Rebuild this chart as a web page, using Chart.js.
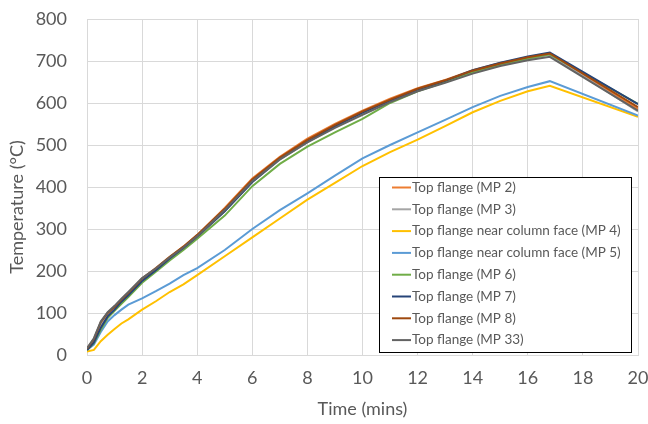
<!DOCTYPE html>
<html lang="en">

<head>
    <meta charset="UTF-8">
    <title>Top flange temperatures</title>
    <script src="https://cdn.jsdelivr.net/npm/chart.js"></script>
    <style>
        html, body { margin: 0; padding: 0; background: #fff; }
        #wrap { width: 648px; height: 424px; position: relative; }
    </style>
</head>

<body>
    <div id="wrap"><canvas id="tempChart"></canvas></div>

    <script>
        // time in minutes
        const times = [0, 0.25, 0.5, 0.75, 1, 1.25, 1.5, 2, 2.5, 3, 3.5, 4, 5, 6, 7, 8, 9, 10, 11, 12, 13, 14, 15, 16, 16.8, 20];

        const mp2 = [15, 35, 75, 98, 112, 130, 145, 180, 205, 232, 258, 285, 350, 420, 472, 515, 550, 582, 610, 635, 655, 678, 695, 708, 717, 585];
        const mp3 = [14, 32, 70, 95, 108, 127, 142, 177, 202, 228, 255, 280, 343, 412, 465, 507, 543, 575, 603, 630, 652, 675, 692, 705, 715, 580];
        const mp4 = [8, 12, 33, 48, 62, 75, 85, 108, 128, 150, 168, 190, 235, 280, 325, 370, 410, 450, 483, 513, 545, 578, 605, 628, 641, 567];
        const mp5 = [12, 25, 55, 80, 95, 108, 120, 135, 152, 170, 190, 207, 250, 300, 345, 385, 427, 468, 500, 530, 560, 590, 617, 638, 652, 570];
        const mp6 = [12, 28, 60, 88, 105, 122, 138, 172, 198, 225, 250, 277, 332, 402, 455, 496, 530, 562, 600, 628, 650, 673, 691, 706, 716, 598];
        const mp7 = [12, 30, 65, 92, 108, 127, 142, 176, 202, 230, 255, 282, 342, 412, 467, 508, 545, 577, 606, 632, 653, 678, 696, 711, 720, 597];
        const mp8 = [15, 38, 78, 100, 115, 132, 148, 182, 207, 234, 258, 286, 348, 418, 470, 512, 548, 580, 608, 634, 654, 677, 694, 709, 718, 590];
        const mp33 = [16, 40, 80, 102, 117, 134, 150, 183, 206, 232, 256, 283, 345, 414, 466, 506, 541, 572, 602, 628, 648, 670, 688, 702, 710, 582];

        const seriesNames = [
            "Top flange (MP 2)",
            "Top flange (MP 3)",
            "Top flange near column face (MP 4)",
            "Top flange near column face (MP 5)",
            "Top flange (MP 6)",
            "Top flange (MP 7)",
            "Top flange (MP 8)",
            "Top flange (MP 33)"
        ];
        const seriesValues = [mp2, mp3, mp4, mp5, mp6, mp7, mp8, mp33];
        const colors = ["#ED7D31", "#A5A5A5", "#FFC000", "#5B9BD5", "#70AD47", "#264478", "#9E480E", "#636363"];

        const xTicks = [0, 2, 4, 6, 8, 10, 12, 14, 16, 18, 20];
        const yTicks = [0, 100, 200, 300, 400, 500, 600, 700, 800];
        const yTitle = "Temperature (°C)";

        const textColor = "#595959";
        const fontFamily = "Lato, 'Open Sans', sans-serif";

        // legend box inside the plot + y title placed like the original
        const boxLegend = {
            id: "boxLegend",
            afterDraw(chart) {
                let ctx = chart.ctx;
                ctx.save();
                ctx.translate(17, 207);
                ctx.rotate(-Math.PI / 2);
                ctx.font = "18px " + fontFamily;
                ctx.fillStyle = textColor;
                ctx.textAlign = "center";
                ctx.textBaseline = "middle";
                ctx.fillText(yTitle, 0, 0);
                ctx.restore();

                let x = 379, y = 177, w = 252, h = 175;
                ctx.save();
                ctx.fillStyle = "#fff";
                ctx.fillRect(x, y, w, h);
                ctx.strokeStyle = "#000";
                ctx.lineWidth = 1;
                ctx.strokeRect(x + 0.5, y + 0.5, w, h);
                ctx.font = "13.5px " + fontFamily;
                ctx.textBaseline = "middle";
                chart.data.datasets.forEach((ds, i) => {
                    let rowY = 187.5 + i * 21.8;
                    ctx.strokeStyle = ds.borderColor;
                    ctx.lineWidth = 2;
                    ctx.beginPath();
                    ctx.moveTo(392, rowY);
                    ctx.lineTo(411, rowY);
                    ctx.stroke();
                    ctx.fillStyle = textColor;
                    ctx.fillText(ds.label, 412, rowY);
                });
                ctx.restore();
            }
        };

        let ctx = document.getElementById("tempChart").getContext("2d");
        new Chart(ctx, {
            type: "scatter",
            data: {
                datasets: seriesNames.map((name, i) => ({
                    label: name,
                    data: times.map((t, j) => ({ x: t, y: seriesValues[i][j] })),
                    showLine: true,
                    borderColor: colors[i],
                    backgroundColor: colors[i],
                    borderWidth: 2,
                    pointRadius: 0,
                    tension: 0,
                    order: seriesNames.length - i
                }))
            },
            options: {
                responsive: true,
                maintainAspectRatio: false,
                animation: false,
                layout: { padding: { top: 19, right: 10, left: 0, bottom: 0 } },
                plugins: {
                    legend: { display: false },
                    tooltip: { enabled: false }
                },
                scales: {
                    x: {
                        type: "linear",
                        min: 0,
                        max: 20,
                        afterBuildTicks: s => { s.ticks = xTicks.map(v => ({ value: v })); },
                        afterFit: s => { s.height = 69; s.paddingLeft = 0; s.paddingRight = 0; },
                        grid: { color: "#d9d9d9", drawTicks: false },
                        border: { color: "#d9d9d9" },
                        ticks: { color: textColor, font: { family: fontFamily, size: 18 }, padding: 12, maxRotation: 0 },
                        title: { display: true, text: "Time (mins)", color: textColor, font: { family: fontFamily, size: 18 }, padding: { top: 8 } }
                    },
                    y: {
                        min: 0,
                        max: 800,
                        afterBuildTicks: s => { s.ticks = yTicks.map(v => ({ value: v })); },
                        afterFit: s => { s.width = 87; s.paddingTop = 0; s.paddingBottom = 0; },
                        grid: { color: "#d9d9d9", drawTicks: false },
                        border: { color: "#d9d9d9" },
                        ticks: { color: textColor, font: { family: fontFamily, size: 18 }, padding: 20 }
                    }
                }
            },
            plugins: [boxLegend]
        });
    </script>
</body>

</html>
